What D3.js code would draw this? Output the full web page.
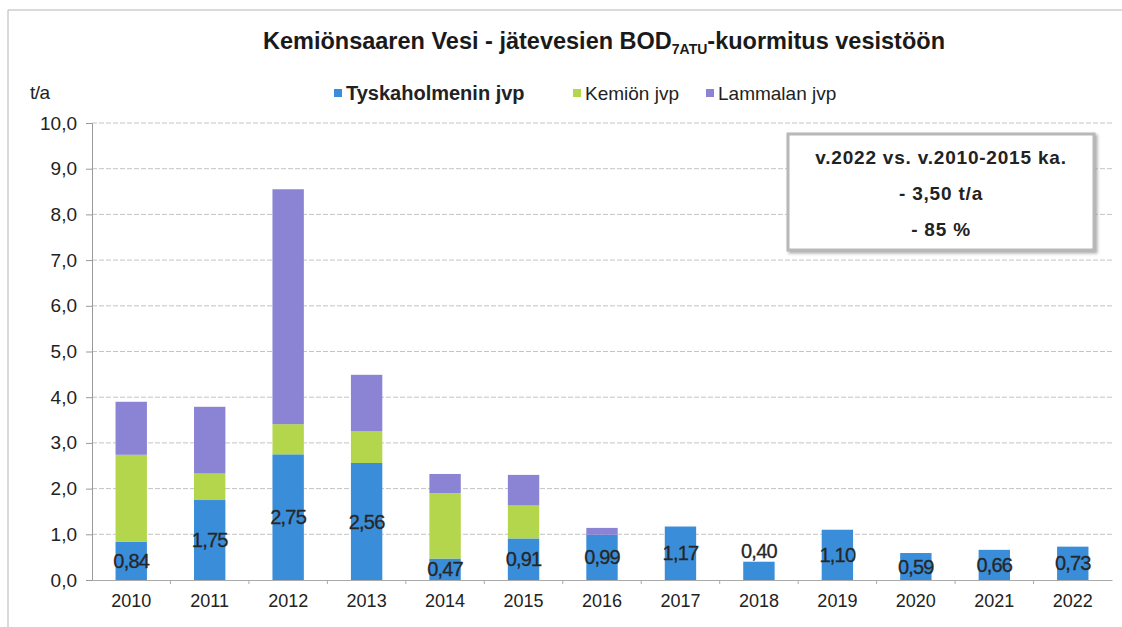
<!DOCTYPE html>
<html>
<head>
<meta charset="utf-8">
<script src="https://cdn.jsdelivr.net/npm/d3@7/dist/d3.min.js"></script>
<style>
  html, body { margin: 0; padding: 0; background: #fff; }
  svg { display: block; font-family: "Liberation Sans", Arial, sans-serif; }
</style>
</head>
<body>
<svg id="chart" width="1122" height="627"></svg>
<script>
// ---- data ----
const years = ["2010","2011","2012","2013","2014","2015","2016","2017","2018","2019","2020","2021","2022"];
const tyskaholmen = [0.84, 1.75, 2.75, 2.56, 0.47, 0.91, 0.99, 1.17, 0.40, 1.10, 0.59, 0.66, 0.73];
const kemio       = [1.90, 0.58, 0.66, 0.70, 1.43, 0.72, 0, 0, 0, 0, 0, 0, 0];
const lammala     = [1.16, 1.46, 5.14, 1.23, 0.42, 0.67, 0.15, 0, 0, 0, 0, 0, 0];
const seriesNames = ["Tyskaholmenin jvp", "Kemiön jvp", "Lammalan jvp"];
const yTicks = [0,1,2,3,4,5,6,7,8,9,10];
const titleMain = "Kemiönsaaren Vesi - jätevesien BOD";
const titleSub = "7ATU";
const titleEnd = "-kuormitus vesistöön";
const unitLabel = "t/a";
const noteLines = ["v.2022 vs. v.2010-2015 ka.", "- 3,50 t/a", "- 85 %"];

// ---- layout ----
const colors = ["#3a8dd8", "#b4d64c", "#8b83d4"];
const svg = d3.select("#chart");
const L = 92, R = 1112, T = 123, B = 580;
const fmt = v => d3.format(".2f")(v).replace(".", ",");

const x = d3.scaleBand().domain(years).range([L, R]).paddingInner(0.6).paddingOuter(0.3);
const y = d3.scaleLinear().domain([0, 10]).range([B, T]);

// frame (scanned page border)
svg.append("line").attr("x1", 8).attr("x2", 1122).attr("y1", 10).attr("y2", 10).attr("stroke", "#b5b5b5");
svg.append("line").attr("x1", 8).attr("x2", 8).attr("y1", 10).attr("y2", 627).attr("stroke", "#b5b5b5");

// title
const title = svg.append("text").attr("x", 604).attr("y", 49).attr("text-anchor", "middle")
  .attr("font-weight", "bold").attr("font-size", 23.5).attr("fill", "#1a1a1a");
title.append("tspan").text(titleMain);
title.append("tspan").attr("font-size", 14).attr("dy", 5).text(titleSub);
title.append("tspan").attr("dy", -5).text(titleEnd);

// unit
svg.append("text").attr("x", 30).attr("y", 99).attr("font-size", 19).attr("fill", "#222").attr("letter-spacing", -0.5).text(unitLabel);

// legend
const legendX = [334, 573, 706];
seriesNames.forEach((n, i) => {
  const g = svg.append("g").attr("transform", `translate(${legendX[i]},93)`);
  g.append("rect").attr("x", 0).attr("y", -4).attr("width", 8).attr("height", 8).attr("fill", colors[i]);
  g.append("text").attr("x", 12).attr("y", 7).attr("font-size", i === 0 ? 20 : 19)
    .attr("font-weight", i === 0 ? "bold" : "normal").attr("fill", "#222").text(n);
});

// gridlines
svg.append("g").selectAll("line").data(yTicks.slice(1)).join("line")
  .attr("x1", L).attr("x2", R).attr("y1", d => y(d)).attr("y2", d => y(d))
  .attr("stroke", "#c4c4c4").attr("stroke-dasharray", "5,2");

// y axis
const yAxis = svg.append("g").attr("transform", `translate(${L},0)`)
  .call(d3.axisLeft(y).tickValues(yTicks).tickSize(6).tickPadding(9).tickFormat(d => d3.format(".1f")(d).replace(".", ",")));
yAxis.select(".domain").attr("stroke", "#999");
yAxis.selectAll(".tick line").attr("stroke", "#999");
yAxis.selectAll("text").attr("font-size", 19).attr("fill", "#222").attr("font-family", "Liberation Sans, Arial, sans-serif");

// stacked bars
const rows = years.map((yr, i) => ({ year: yr, t: tyskaholmen[i], k: kemio[i], l: lammala[i] }));
const stack = d3.stack().keys(["t", "k", "l"])(rows);
svg.append("g").selectAll("g").data(stack).join("g").attr("fill", (d, i) => colors[i])
  .selectAll("rect").data(d => d).join("rect")
  .attr("x", d => x(d.data.year)).attr("width", x.bandwidth())
  .attr("y", d => y(d[1])).attr("height", d => y(d[0]) - y(d[1]));

// x axis
const xAxis = svg.append("g").attr("transform", `translate(0,${B})`)
  .call(d3.axisBottom(x).tickSize(0).tickPadding(14));
xAxis.select(".domain").attr("stroke", "#aaa");
xAxis.selectAll("text").attr("font-size", 18).attr("fill", "#222").attr("font-family", "Liberation Sans, Arial, sans-serif");
// category boundary ticks
const step = x.step();
svg.append("g").selectAll("line").data(years.slice(1)).join("line")
  .attr("x1", d => x(d) - (step - x.bandwidth()) / 2).attr("x2", d => x(d) - (step - x.bandwidth()) / 2)
  .attr("y1", B).attr("y2", B + 4).attr("stroke", "#aaa");

// value labels for the Tyskaholmen series
svg.append("g").selectAll("text").data(rows).join("text")
  .attr("x", d => x(d.year) + x.bandwidth() / 2)
  .attr("y", d => d.t < 0.45 ? y(d.t) - 11 : y(d.t / 2))
  .attr("dy", "0.35em").attr("text-anchor", "middle")
  .attr("font-size", 20).attr("fill", "#262626").attr("letter-spacing", -0.8)
  .attr("stroke", "#262626").attr("stroke-width", 0.3)
  .text(d => fmt(d.t));

// annotation box
const defs = svg.append("defs");
const f = defs.append("filter").attr("id", "sh").attr("x", "-10%").attr("y", "-10%").attr("width", "130%").attr("height", "130%");
f.append("feDropShadow").attr("dx", 2).attr("dy", 2).attr("stdDeviation", 1.5).attr("flood-color", "#999").attr("flood-opacity", 0.8);
const bx = 788, by = 134, bw = 306, bh = 116;
svg.append("rect").attr("x", bx).attr("y", by).attr("width", bw).attr("height", bh)
  .attr("fill", "#fff").attr("stroke", "#b8b8b8").attr("stroke-width", 3).attr("filter", "url(#sh)");
noteLines.forEach((t, i) => {
  svg.append("text").attr("x", bx + bw / 2).attr("y", 157 + i * 36).attr("dy", "0.35em")
    .attr("text-anchor", "middle").attr("font-size", 19).attr("font-weight", "bold")
    .attr("letter-spacing", 0.8).attr("fill", "#222").text(t);
});
</script>
</body>
</html>
